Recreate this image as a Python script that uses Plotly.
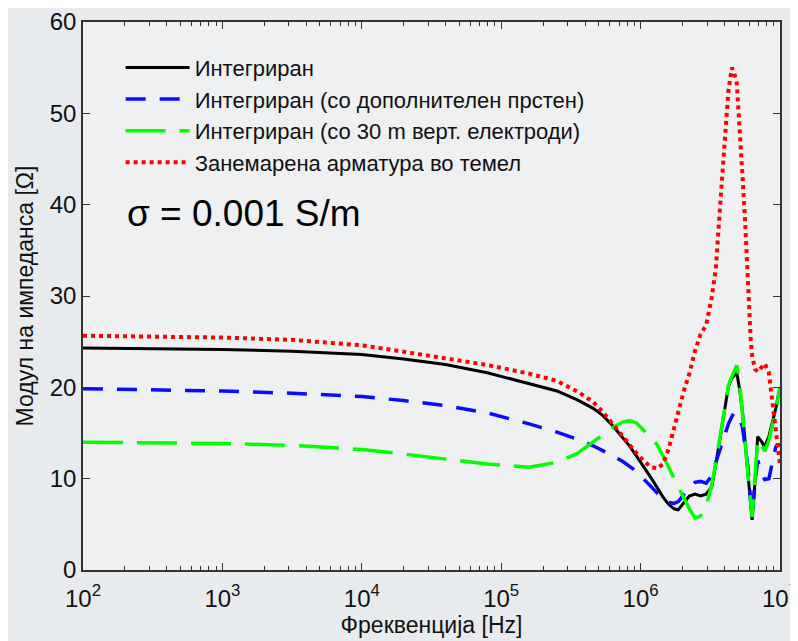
import plotly.graph_objects as go

# Frequency grid [Hz]
freq_hz = [1e2, 316, 1e3, 3162, 1e4, 19950, 39810, 79430, 158500, 251200,
           354800, 457100, 537000, 631000, 741300, 831800, 933300, 1.047e6, 1.175e6, 1.318e6,
           1.445e6, 1.585e6, 1.738e6, 1.862e6, 2.042e6, 2.239e6, 2.455e6, 2.692e6, 2.951e6, 3.236e6,
           3.467e6, 3.715e6, 3.981e6, 4.266e6, 4.519e6, 4.677e6, 4.898e6, 5.129e6, 5.370e6, 5.623e6,
           5.888e6, 6.166e6, 6.310e6, 6.607e6, 6.918e6, 7.413e6, 7.762e6, 8.318e6, 8.913e6, 9.333e6,
           9.772e6, 1e7]

# Impedance modulus [Ohm]
z_integrated = [24.3, 24.25, 24.15, 23.95, 23.6, 23.1, 22.5, 21.6, 20.4, 19.6,
                18.6, 17.7, 16.9, 15.8, 14.5, 13.6, 12.5, 11.4, 10.2, 9.0,
                8.0, 7.2, 6.7, 6.6, 7.3, 8.1, 8.3, 8.1, 8.3, 9.1,
                11.6, 14.6, 17.5, 20.1, 21.0, 21.3, 21.6, 19.8, 17.5, 14.0,
                10.5, 6.8, 5.5, 9.5, 14.6, 14.0, 13.5, 14.6, 16.4, 17.7,
                19.3, 19.9]

z_ring = [19.85, 19.75, 19.6, 19.35, 19.0, 18.55, 18.0, 17.2, 16.0, 15.1,
          14.3, 13.6, 13.1, 12.5, 11.9, 11.4, 10.8, 10.0, 9.2, 8.3,
          7.8, 7.4, 7.3, 7.5, 8.3, 9.0, 9.6, 9.7, 9.5, 10.3,
          11.8, 13.3, 14.7, 16.0, 16.8, 17.2, 17.1, 16.6, 15.7, 13.5,
          11.3, 7.5, 5.8, 9.5, 12.0, 10.5, 9.9, 10.0, 12.4, 13.5,
          13.7, 13.6]

z_vert = [14.0, 13.95, 13.85, 13.65, 13.2, 12.7, 12.15, 11.6, 11.25, 11.8,
          12.8, 14.0, 14.8, 15.6, 16.2, 16.35, 16.1, 15.4, 14.6, 13.7,
          12.6, 11.3, 10.0, 9.1, 7.8, 6.7, 5.7, 5.9, 7.0, 9.3,
          11.8, 14.6, 17.5, 20.2, 21.2, 21.8, 22.4, 20.5, 17.5, 14.0,
          10.5, 7.0, 5.8, 10.0, 14.3, 13.6, 13.0, 14.2, 16.0, 17.4,
          19.2, 19.9]

z_no_rebar = [25.65, 25.6, 25.45, 25.2, 24.6, 23.9, 23.2, 22.45, 21.5, 20.7,
              19.5, 18.4, 17.3, 16.0, 14.6, 13.7, 12.8, 12.0, 11.3, 11.1,
              11.6, 13.2, 15.6, 17.2, 19.6, 21.5, 24.0, 25.8, 26.8, 29.8,
              33.0, 39.8, 46.8, 52.5, 55.0, 54.5, 53.3, 48.9, 43.4, 38.0,
              30.7, 25.2, 23.5, 22.0, 21.7, 22.3, 22.6, 21.6, 17.9, 15.8,
              12.5, 11.5]

series_names = ["Интегриран",
                "Интегриран (со дополнителен прстен)",
                "Интегриран (со 30 m верт. електроди)",
                "Занемарена арматура во темел"]

x_tick_vals = [1e2, 1e3, 1e4, 1e5, 1e6, 1e7]
x_tick_text = ["10<sup>2</sup>", "10<sup>3</sup>", "10<sup>4</sup>",
               "10<sup>5</sup>", "10<sup>6</sup>", "10<sup>7</sup>"]
y_tick_vals = [0, 10, 20, 30, 40, 50, 60]

FONT = "Liberation Sans, Arial, sans-serif"

fig = go.Figure()
styles = [
    (z_integrated, "#000000", "solid", 3),
    (z_ring, "#0a0aff", "20px,14px", 3.5),
    (z_vert, "#00ff00", "40px,14px", 3.5),
    (z_no_rebar, "#ff0000", "4px,4px", 4),
]
for i, (vals, col, dash, w) in enumerate(styles):
    fig.add_trace(go.Scatter(
        x=freq_hz, y=vals, mode="lines", name=series_names[i],
        legendgroup=f"g{i}",
        line=dict(color=col, dash=dash, width=w, shape="linear"),
    ))

fig.add_annotation(
    x=0.06, y=0.651, xref="paper", yref="paper", xanchor="left", yanchor="middle",
    text="σ = 0.001 S/m", showarrow=False,
    font=dict(family=FONT, size=37, color="#000000"),
)

axis_common = dict(
    showline=True, linecolor="#333333", linewidth=1.5, mirror="ticks",
    ticks="inside", ticklen=7, tickcolor="#333333", tickwidth=1,
    showgrid=False, zeroline=False, automargin=False,
    tickfont=dict(family=FONT, size=24, color="#111111"),
    title_font=dict(family=FONT, size=23, color="#111111"),
)

fig.update_xaxes(
    type="log", range=[2, 7],
    tickvals=x_tick_vals, ticktext=x_tick_text, ticklabelstandoff=6,
    minor=dict(ticks="inside", ticklen=4, tickcolor="#333333", dtick="D1", showgrid=False),
    title_text="Фреквенција [Hz]", title_standoff=6,
    **axis_common,
)
fig.update_yaxes(
    range=[0, 60], tickvals=y_tick_vals,
    title_text="Модул на импеданса [Ω]", title_standoff=10,
    **axis_common,
)

fig.update_layout(
    width=798, height=641,
    margin=dict(l=75, r=26, t=14, b=79),
    paper_bgcolor="#e8ebed",
    plot_bgcolor="#eef0f1",
    showlegend=True,
    legend=dict(
        x=0.054, y=0.955, xanchor="left", yanchor="top",
        bgcolor="rgba(0,0,0,0)", borderwidth=0,
        font=dict(family=FONT, size=22, color="#111111"),
        tracegroupgap=0, itemwidth=64,
    ),
)

fig.write_html("out.html")
